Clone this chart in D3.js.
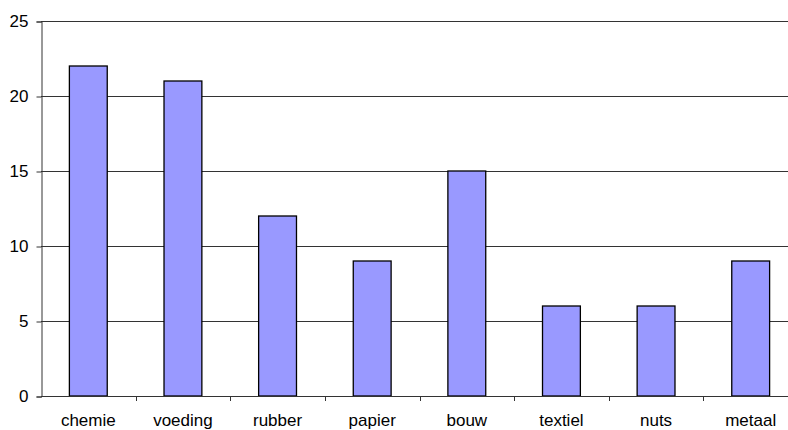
<!DOCTYPE html>
<html>
<head>
<meta charset="utf-8">
<script src="https://cdn.jsdelivr.net/npm/d3@7"></script>
<style>
  html, body { margin: 0; padding: 0; background: #fff; }
  svg { display: block; }
  text { font-family: "Liberation Sans", Arial, sans-serif; fill: #000; }
</style>
</head>
<body>
<svg id="chart" width="788" height="430"></svg>
<script>
// Sectors and their counts
const categories = ["chemie", "voeding", "rubber", "papier", "bouw", "textiel", "nuts", "metaal"];
const values = [22, 21, 12, 9, 15, 6, 6, 9];
const yTicks = [0, 5, 10, 15, 20, 25];

const svg = d3.select("#chart");
const margin = { left: 41, top: 21, bottom: 34 };
const plotW = 757;               // plot extends slightly past the right edge
const H = 430;
const y0 = H - margin.bottom;    // baseline

const x = d3.scaleBand()
  .domain(categories)
  .range([margin.left, margin.left + plotW])
  .paddingInner(0)
  .paddingOuter(0);

const y = d3.scaleLinear()
  .domain([0, 25])
  .range([y0, margin.top]);

const barW = x.bandwidth() / 2.5;

// horizontal gridlines
svg.append("g")
  .selectAll("line")
  .data(yTicks.filter(d => d > 0))
  .join("line")
  .attr("x1", margin.left)
  .attr("x2", margin.left + plotW)
  .attr("y1", d => Math.round(y(d)) + 0.5)
  .attr("y2", d => Math.round(y(d)) + 0.5)
  .attr("stroke", "#333")
  .attr("stroke-width", 1);

// bars
svg.append("g")
  .selectAll("rect")
  .data(values)
  .join("rect")
  .attr("x", (d, i) => x(categories[i]) + (x.bandwidth() - barW) / 2)
  .attr("y", d => y(d))
  .attr("width", barW)
  .attr("height", d => y0 - y(d))
  .attr("fill", "#9999ff")
  .attr("stroke", "#000")
  .attr("stroke-width", 1.3);

// y axis
const yAxis = d3.axisLeft(y)
  .tickValues(yTicks)
  .tickSize(5)
  .tickPadding(8);
const gy = svg.append("g")
  .attr("transform", `translate(${margin.left + 0.5},0.5)`)
  .call(yAxis);
gy.select(".domain").attr("stroke", "#333");
gy.selectAll(".tick line").attr("stroke", "#333");
gy.selectAll(".tick text")
  .attr("font-size", 17)
  .attr("font-family", "Liberation Sans, Arial, sans-serif")
  .attr("fill", "#000");

// x axis: ticks sit between categories
const tickPos = d3.range(1, categories.length).map(i => x(categories[i]));
const gx = svg.append("g");
gx.append("line")
  .attr("x1", margin.left)
  .attr("x2", margin.left + plotW)
  .attr("y1", y0 + 0.5)
  .attr("y2", y0 + 0.5)
  .attr("stroke", "#333");
gx.selectAll("line.tk")
  .data(tickPos)
  .join("line")
  .attr("class", "tk")
  .attr("x1", d => Math.round(d) + 0.5)
  .attr("x2", d => Math.round(d) + 0.5)
  .attr("y1", y0)
  .attr("y2", y0 + 5)
  .attr("stroke", "#333");
gx.selectAll("text")
  .data(categories)
  .join("text")
  .attr("x", d => x(d) + x.bandwidth() / 2)
  .attr("y", y0 + 30)
  .attr("text-anchor", "middle")
  .attr("font-size", 17)
  .text(d => d);
</script>
</body>
</html>
